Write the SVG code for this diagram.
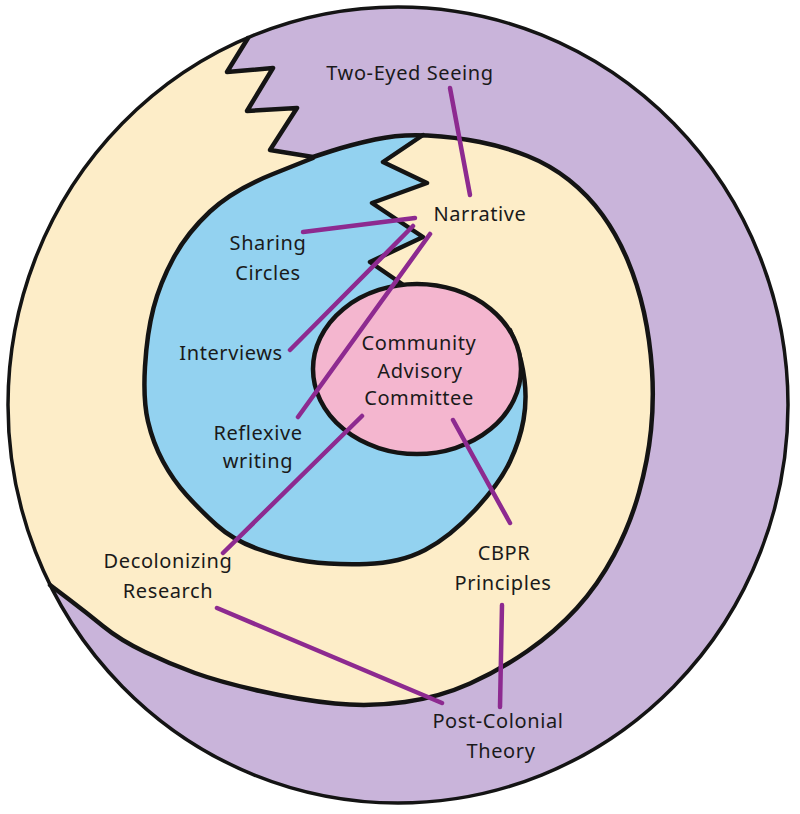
<svg xmlns="http://www.w3.org/2000/svg" width="800" height="814" viewBox="0 0 800 814">
<style>
.ink{fill:none;stroke:#141414;stroke-width:4.5;stroke-linejoin:round;stroke-linecap:round}
.con{fill:none;stroke:#8d2a90;stroke-width:4.5;stroke-linecap:round}
.lbl{font-family:"Noto Sans","DejaVu Sans",sans-serif;font-size:20px;fill:#1a1a1a;text-anchor:middle;letter-spacing:0.6px}
</style>
<rect width="800" height="814" fill="#ffffff"/>
<g id="outer-ring">
<ellipse cx="398" cy="405" rx="390" ry="398" fill="#c9b4da"/>
</g>
<g id="middle-ring">
<path fill="#fdedc8" d="M248,38 A390,398 0 0,0 50,585 L68.5,599 Q87,613 103.5,626.5 Q120,640 145,652 Q170,664 195,673 Q220,682 260,691 Q300,700 335,703.5 Q370,707 405,702 Q440,697 470,683.5 Q500,670 527.5,651 Q555,632 576.5,608.5 Q598,585 614,555 Q630,525 639,492.5 Q648,460 651,430 Q654,400 652,370 Q650,340 644,312.5 Q638,285 627.5,260 Q617,235 602.5,215 Q588,195 569,180 Q550,165 527.5,156 Q505,147 480,142 Q455,137 427.5,135.5 Q400,134 375,139.5 Q350,145 331.5,151 L313,157 L270,150 L297,108 L247,111 L273,68 L227,72 Z"/>
</g>
<g id="inner-ring">
<path fill="#93d2f0" d="M313,158 Q350,145 375,139.5 Q400,134 423,135 L383,162 L427,183 L372,203 L423,237 L370,262 L402,284 L440,300 L490,320 L510,330 L516,345 Q522,360 524.5,380 Q527,400 523.5,420 Q520,440 510,461.5 Q500,483 475,510 Q450,537 425,550 Q400,563 366.5,564 Q333,565 308,561.5 Q283,558 258,549 Q233,540 216.5,525 Q200,510 186.5,495 Q173,480 163,461.5 Q153,443 148,421.5 Q143,400 145,366.5 Q147,333 153.5,308 Q160,283 173.5,258 Q187,233 210,211.5 Q233,190 273,174 Z"/>
</g>
<g id="outlines">
<ellipse class="ink" cx="398" cy="405" rx="390" ry="398" style="stroke-width:3.5"/>
<path class="ink" d="M50,585 L68.5,599 Q87,613 103.5,626.5 Q120,640 145,652 Q170,664 195,673 Q220,682 260,691 Q300,700 335,703.5 Q370,707 405,702 Q440,697 470,683.5 Q500,670 527.5,651 Q555,632 576.5,608.5 Q598,585 614,555 Q630,525 639,492.5 Q648,460 651,430 Q654,400 652,370 Q650,340 644,312.5 Q638,285 627.5,260 Q617,235 602.5,215 Q588,195 569,180 Q550,165 527.5,156 Q505,147 480,142 Q455,137 427.5,135.5 Q400,134 375,139.5 Q350,145 331.5,151 L313,157 L270,150 L297,108 L247,111 L273,68 L227,72 L248,38"/>
<path class="ink" d="M313,158 L273,174 Q233,190 210,211.5 Q187,233 173.5,258 Q160,283 153.5,308 Q147,333 145,366.5 Q143,400 148,421.5 Q153,443 163,461.5 Q173,480 186.5,495 Q200,510 216.5,525 Q233,540 258,549 Q283,558 308,561.5 Q333,565 366.5,564 Q400,563 425,550 Q450,537 475,510 Q500,483 510,461.5 Q520,440 523.5,420 Q527,400 524.5,380 Q522,360 516,345 L510,330"/>
<path class="ink" d="M423,135 L383,162 L427,183 L372,203 L423,237 L370,262 L402,284"/>
</g>
<g id="core">
<ellipse cx="417" cy="369" rx="104" ry="85" fill="#f4b6cf" stroke="#141414" stroke-width="4.5"/>
</g>
<g id="connectors">
<line class="con" x1="450" y1="88" x2="470" y2="195"/>
<line class="con" x1="415" y1="218" x2="303" y2="232"/>
<line class="con" x1="413" y1="226" x2="290" y2="350"/>
<line class="con" x1="430" y1="234" x2="298" y2="417"/>
<line class="con" x1="362" y1="416" x2="223" y2="553"/>
<line class="con" x1="453" y1="420" x2="510" y2="523"/>
<line class="con" x1="502" y1="605" x2="500" y2="707"/>
<line class="con" x1="217" y1="608" x2="442" y2="703"/>
</g>
<g id="two-eyed-seeing"><text class="lbl" x="410" y="80">Two-Eyed Seeing</text></g>
<g id="narrative"><text class="lbl" x="480" y="221">Narrative</text></g>
<g id="sharing-circles"><text class="lbl" x="268" y="250">Sharing</text><text class="lbl" x="268" y="280">Circles</text></g>
<g id="interviews"><text class="lbl" x="231" y="360">Interviews</text></g>
<g id="community-advisory-committee"><text class="lbl" x="419" y="350">Community</text><text class="lbl" x="420" y="378">Advisory</text><text class="lbl" x="419" y="405">Committee</text></g>
<g id="reflexive-writing"><text class="lbl" x="258" y="440">Reflexive</text><text class="lbl" x="258" y="468">writing</text></g>
<g id="decolonizing-research"><text class="lbl" x="168" y="568">Decolonizing</text><text class="lbl" x="168" y="598">Research</text></g>
<g id="cbpr-principles"><text class="lbl" x="504" y="560">CBPR</text><text class="lbl" x="503" y="590">Principles</text></g>
<g id="post-colonial-theory"><text class="lbl" x="498" y="728">Post-Colonial</text><text class="lbl" x="501" y="758">Theory</text></g>
</svg>
